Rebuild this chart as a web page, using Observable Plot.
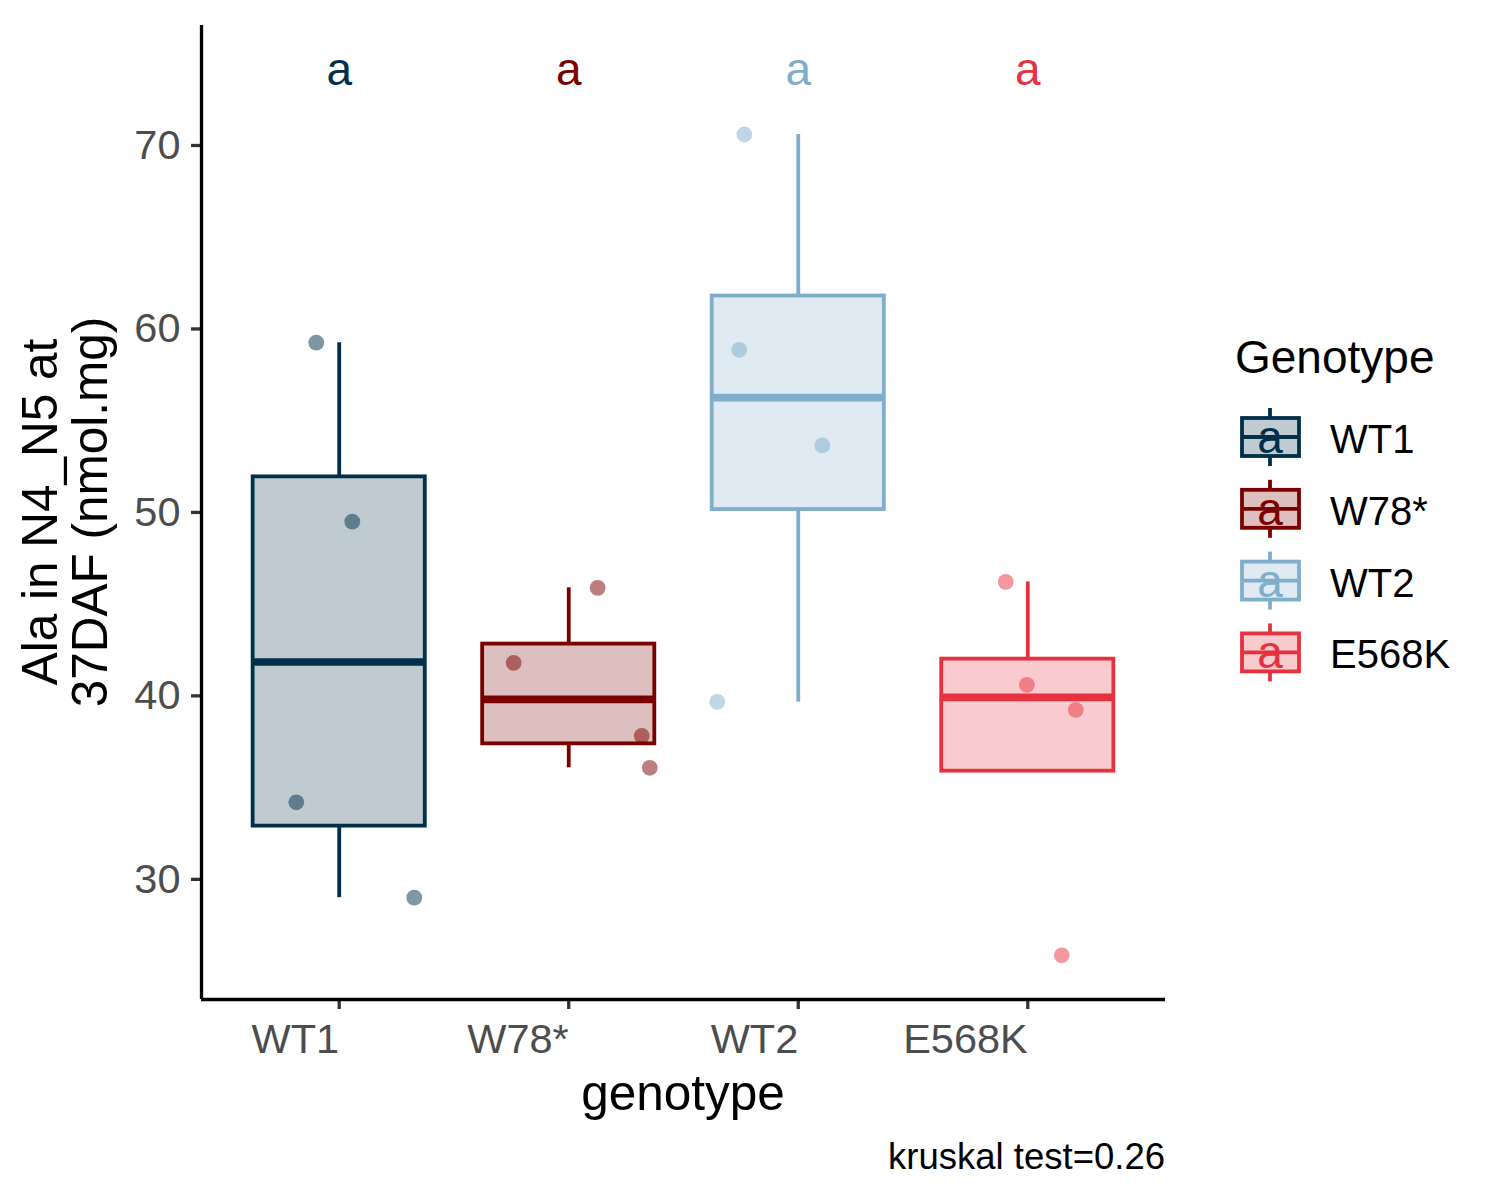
<!DOCTYPE html>
<html>
<head>
<meta charset="utf-8">
<script src="https://cdn.jsdelivr.net/npm/d3@7"></script>
<script src="https://cdn.jsdelivr.net/npm/@observablehq/plot@0.6"></script>
<style>
  body { margin: 0; background: #ffffff; }
  #wrap { position: relative; width: 1500px; height: 1200px; background: #ffffff; }
  #wrap svg { position: absolute; left: 0; top: 0; }
</style>
</head>
<body>
<div id="wrap"></div>
<script>
// ---------------- data ----------------
const genotypes = ["WT1", "W78*", "WT2", "E568K"];
const colors = ["#003049", "#7A0000", "#7FADCA", "#E8313F"];

const wt1Values   = [59.25, 49.5, 34.2, 29.0];
const w78Values   = [45.89, 41.8, 37.82, 36.08];
const wt2Values   = [70.6, 58.86, 53.65, 39.67];
const e568kValues = [46.21, 40.6, 39.24, 25.86];

// horizontal jitter of each point (fraction of category spacing)
const wt1Jitter   = [-0.100, 0.057, -0.187, 0.327];
const w78Jitter   = [0.126, -0.240, 0.318, 0.353];
const wt2Jitter   = [-0.235, -0.257, 0.105, -0.353];
const e568kJitter = [-0.096, -0.004, 0.209, 0.148];

const letters = ["a", "a", "a", "a"];
const letterY = 74.1;
const yTicks = [30, 40, 50, 60, 70];
const yDomain = [23.45, 76.54];
const xDomain = [0.4, 4.6];
const xLabel = "genotype";
const yLabelLines = ["Ala in N4_N5 at", "37DAF (nmol.mg)"];
const legendTitle = "Genotype";
const caption = "kruskal test=0.26";

// ---------------- derived tables ----------------
const groups = [wt1Values, w78Values, wt2Values, e568kValues];
const jitters = [wt1Jitter, w78Jitter, wt2Jitter, e568kJitter];
const boxWidth = 0.75;

const points = genotypes.flatMap((g, k) =>
  groups[k].map((v, j) => ({genotype: g, pos: k + 1, value: v, jitter: jitters[k][j]}))
);

const stats = genotypes.map((g, k) => {
  const s = d3.sort(groups[k]);
  const q1 = d3.quantile(s, 0.25), med = d3.quantile(s, 0.5), q3 = d3.quantile(s, 0.75);
  const iqr = q3 - q1;
  const hi = d3.max(s.filter(v => v <= q3 + 1.5 * iqr));
  const lo = d3.min(s.filter(v => v >= q1 - 1.5 * iqr));
  return {genotype: g, pos: k + 1, q1, med, q3, hi, lo, letter: letters[k]};
});

const FONT = "'Liberation Sans', Arial, Helvetica, sans-serif";
const LW = 3.8;

// ---------------- chart ----------------
const chart = Plot.plot({
  width: 1500,
  height: 1200,
  marginLeft: 201,
  marginRight: 335,
  marginTop: 25,
  marginBottom: 201,
  style: {fontFamily: FONT, background: "transparent", overflow: "visible"},
  x: {type: "linear", domain: xDomain},
  y: {domain: yDomain},
  color: {domain: genotypes, range: colors},
  marks: [
    // whiskers
    Plot.ruleX(stats.filter(d => d.hi > d.q3), {x: "pos", y1: "q3", y2: "hi", stroke: "genotype", strokeWidth: LW}),
    Plot.ruleX(stats.filter(d => d.lo < d.q1), {x: "pos", y1: "lo", y2: "q1", stroke: "genotype", strokeWidth: LW}),
    // boxes
    Plot.rect(stats, {
      x1: d => d.pos - boxWidth / 2, x2: d => d.pos + boxWidth / 2,
      y1: "q1", y2: "q3",
      fill: "genotype", fillOpacity: 0.25,
      stroke: "genotype", strokeWidth: LW
    }),
    // medians
    Plot.ruleY(stats, {
      x1: d => d.pos - boxWidth / 2, x2: d => d.pos + boxWidth / 2,
      y: "med", stroke: "genotype", strokeWidth: 7.6
    }),
    // jittered points
    Plot.dot(points, {
      x: d => d.pos + d.jitter, y: "value",
      fill: "genotype", fillOpacity: 0.5, r: 7.9
    }),
    // significance letters
    Plot.text(stats, {
      x: "pos", y: d => letterY, text: "letter",
      fill: "genotype", fontSize: 46, lineAnchor: "middle"
    }),
    // axes
    Plot.axisY({
      ticks: yTicks, tickSize: 10, tickPadding: 11, label: null,
      stroke: "#333333", fill: "#4D4D4D", strokeWidth: 3.3, fontSize: 41.5, dy: 0
    }),
    Plot.axisX({
      ticks: [1, 2, 3, 4], tickFormat: i => genotypes[i - 1],
      tickSize: 10, tickPadding: 14.5, label: null,
      stroke: "#333333", fill: "#4D4D4D", strokeWidth: 3.3, fontSize: 41.5, textAnchor: "end"
    }),
    Plot.ruleX([xDomain[0]], {stroke: "#000000", strokeWidth: 3.3}),
    Plot.ruleY([yDomain[0]], {stroke: "#000000", strokeWidth: 3.3})
  ]
});
document.getElementById("wrap").appendChild(chart);

// ---------------- titles, caption, legend ----------------
const overlay = d3.select("#wrap").append("svg")
  .attr("width", 1500).attr("height", 1200)
  .style("font-family", FONT)
  .style("pointer-events", "none");

// y axis title (two lines, rotated)
const yTitle = overlay.append("g").attr("transform", "translate(0,512) rotate(-90)");
yLabelLines.forEach((line, i) => {
  yTitle.append("text")
    .attr("x", 0).attr("y", 57 + 50 * i)
    .attr("text-anchor", "middle")
    .attr("font-size", 49.5)
    .attr("fill", "#000")
    .text(line);
});

// x axis title
overlay.append("text")
  .attr("x", 683).attr("y", 1110)
  .attr("text-anchor", "middle")
  .attr("font-size", 49.5)
  .attr("fill", "#000")
  .text(xLabel);

// caption
overlay.append("text")
  .attr("x", 1165).attr("y", 1169)
  .attr("text-anchor", "end")
  .attr("font-size", 36.5)
  .attr("fill", "#000")
  .text(caption);

// legend
overlay.append("text")
  .attr("x", 1235).attr("y", 373)
  .attr("font-size", 46)
  .attr("fill", "#000")
  .text(legendTitle);

genotypes.forEach((g, k) => {
  const cy = 437 + 71.8 * k;
  const c = colors[k];
  const key = overlay.append("g");
  key.append("line").attr("x1", 1270).attr("x2", 1270).attr("y1", cy - 29).attr("y2", cy - 19)
    .attr("stroke", c).attr("stroke-width", LW);
  key.append("line").attr("x1", 1270).attr("x2", 1270).attr("y1", cy + 19).attr("y2", cy + 29)
    .attr("stroke", c).attr("stroke-width", LW);
  key.append("rect").attr("x", 1242).attr("y", cy - 19).attr("width", 57).attr("height", 38)
    .attr("fill", c).attr("fill-opacity", 0.25)
    .attr("stroke", c).attr("stroke-width", LW);
  key.append("line").attr("x1", 1242).attr("x2", 1299).attr("y1", cy).attr("y2", cy)
    .attr("stroke", c).attr("stroke-width", LW);
  key.append("text").attr("x", 1270).attr("y", cy + 16)
    .attr("text-anchor", "middle").attr("font-size", 46).attr("fill", c)
    .text(letters[k]);
  overlay.append("text").attr("x", 1330).attr("y", cy + 16)
    .attr("font-size", 40).attr("fill", "#000")
    .text(g);
});
</script>
</body>
</html>
